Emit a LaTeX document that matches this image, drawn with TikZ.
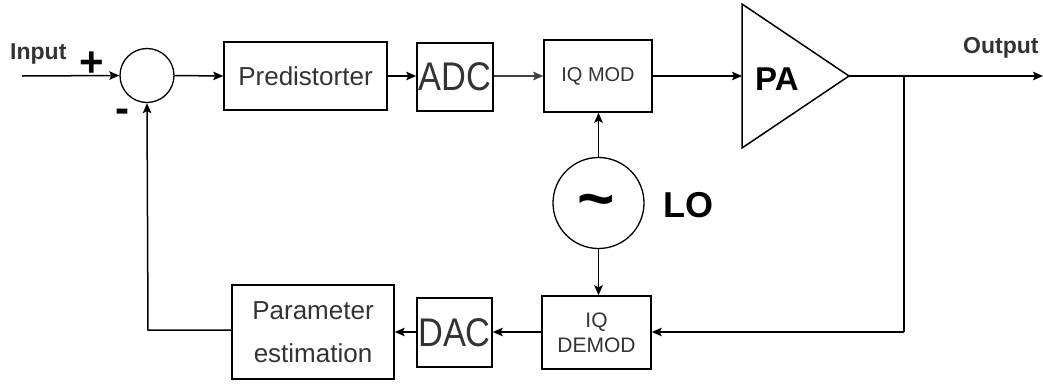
\documentclass[tikz,border=0pt]{standalone}
\usepackage{fontspec}
\setmainfont{Liberation Sans}
\usetikzlibrary{arrows.meta}
\definecolor{txtgray}{HTML}{333333}
\tikzset{
  x=1pt, y=-1pt,
  conn/.style={line width=1.5pt, -{Stealth[length=10pt,width=8.5pt,inset=2pt]}},
  wire/.style={line width=1.5pt},
  blk/.style={draw, line width=1.5pt, rectangle, inner sep=0pt, text=txtgray},
  ring/.style={draw, line width=1.3pt, circle, inner sep=0pt},
  lbl/.style={inner sep=0pt, text=black},
}
\newcommand{\fs}[2]{\fontsize{#1}{#2}\selectfont}
\begin{document}
\begin{tikzpicture}
\useasboundingbox (0,0) rectangle (1043,383);
% blocks
\node[ring, minimum size=54pt] (sum) at (147,75.5) {};
\node[blk, minimum width=163pt, minimum height=68pt, font=\fs{26}{31}] (pred) at (305.5,76) {Predistorter};
\node[blk, minimum width=76pt, minimum height=68pt, font=\fs{40}{48}] (adc) at (455,77) {\scalebox{0.86}[1]{ADC}};
\node[blk, minimum width=108pt, minimum height=72pt, font=\fs{20}{24}] (iqmod) at (598,76) {IQ MOD};
\node[ring, minimum size=91pt] (lo) at (598.5,203) {};
\node[lbl, font=\fs{64}{70}\bfseries] (tilde) at (596,207) {\char`\~};
\node[lbl, anchor=base west, font=\fs{36}{40}\bfseries] (lolbl) at (663,217) {LO};
\node[blk, minimum width=109pt, minimum height=73pt, align=center, font=\fs{21}{25}] (iqdemod) at (596.5,332.5) {IQ\\DEMOD};
\node[blk, minimum width=75pt, minimum height=69pt, font=\fs{40}{48}] (dac) at (454.5,332.5) {\scalebox{0.86}[1]{DAC}};
\node[blk, minimum width=162pt, minimum height=94pt, align=center, font=\fs{26}{43}] (param) at (313,332) {Parameter\\estimation};
% PA triangle
\coordinate (pain) at (742,76);
\coordinate (paout) at (849,76);
\draw[line width=1.5pt, line join=miter] (742,4) -- (paout) -- (742,148) -- cycle;
\node[lbl, anchor=base west, font=\fs{33}{38}\bfseries] (palbl) at (755,90) {PA};
% labels
\node[lbl, anchor=base west, font=\fs{23}{27}\bfseries, text=txtgray] (inlbl) at (10,59) {Input};
\node[lbl, anchor=base west, font=\fs{23}{27}\bfseries, text=txtgray] (outlbl) at (963,53) {Output};
\node[lbl, font=\fs{42}{46}\bfseries] (plus) at (92,64) {+};
\node[lbl, font=\fs{42}{46}\bfseries] (minus) at (122.5,116) {-};
% coordinates
\coordinate (instart) at (22,76);
\coordinate (outend) at (1043,76);
\coordinate (branch) at (904,76);
\coordinate (corner1) at (904,332);
\coordinate (corner2) at (148,330);
% connectors
\draw[conn] (instart) -- (sum.west);
\draw[conn] (sum.east) -- (pred.west);
\draw[conn] (pred.east) -- (pred.east -| adc.west);
\draw[conn, draw=black!75, line width=2pt] (adc.east |- iqmod.west) -- (iqmod.west);
\draw[conn] (iqmod.east) -- (pain);
\draw[conn] (paout) -- (outend);
\draw[wire] (branch) -- (corner1);
\draw[conn] (corner1) -- (iqdemod.east |- corner1);
\draw[conn] (iqdemod.west |- corner1) -- (dac.east |- corner1);
\draw[conn] (dac.west |- corner1) -- (param.east |- corner1);
\draw[conn] (param.west |- corner2) -- (corner2) -- (sum.south);
\draw[conn] (lo.north) -- (lo.north |- iqmod.south);
\draw[conn] (lo.south) -- (lo.south |- iqdemod.north);
\end{tikzpicture}
\end{document}
